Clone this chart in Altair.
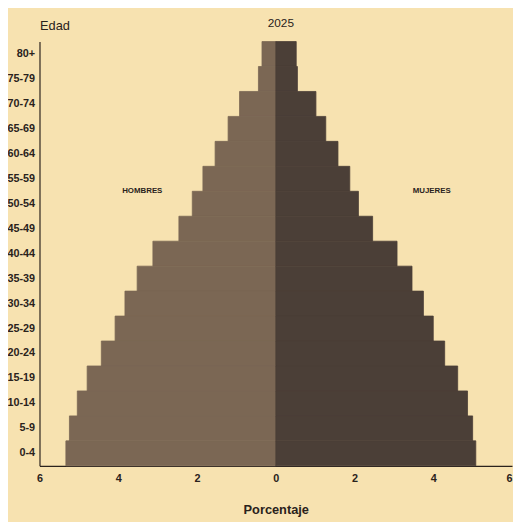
import altair as alt
import pandas as pd

ages = ["80+", "75-79", "70-74", "65-69", "60-64", "55-59", "50-54", "45-49",
        "40-44", "35-39", "30-34", "25-29", "20-24", "15-19", "10-14", "5-9", "0-4"]
hombres = [0.35, 0.44, 0.92, 1.21, 1.54, 1.85, 2.12, 2.46,
           3.12, 3.52, 3.83, 4.08, 4.43, 4.79, 5.04, 5.24, 5.33]
mujeres = [0.52, 0.55, 1.02, 1.27, 1.58, 1.88, 2.10, 2.46,
           3.08, 3.46, 3.75, 4.00, 4.29, 4.62, 4.87, 5.00, 5.08]
x_ticks = [-6, -4, -2, 0, 2, 4, 6]
sex_labels = ["HOMBRES", "MUJERES"]
sex_label_x = [-3.39, 3.96]
year_label = ["2025"]
year_x = [0.13]

FONT = "Liberation Sans"
BG = "#f7e2b0"
INK = "#2a221c"

rows = []
for a, h, m in zip(ages, hombres, mujeres):
    rows.append({"edad": a, "sexo": "Hombres", "valor": -h})
    rows.append({"edad": a, "sexo": "Mujeres", "valor": m})
df = pd.DataFrame(rows)

lab = pd.DataFrame({"txt": sex_labels, "x": sex_label_x})
yr = pd.DataFrame({"txt": year_label, "x": year_x})

x_scale = alt.Scale(domain=[-6, 6], nice=False, zero=False)
col_scale = alt.Scale(domain=["Hombres", "Mujeres"], range=["#7b6754", "#4b3f37"])

bars = alt.Chart(df).mark_bar(strokeWidth=0.8, opacity=1).encode(
    x=alt.X("valor:Q", scale=x_scale,
            axis=alt.Axis(values=x_ticks, labelExpr="abs(datum.value)", title="Porcentaje",
                          ticks=False, grid=False, domainColor=INK, domainWidth=1.2,
                          labelFont=FONT, labelFontSize=11, labelFontWeight="bold",
                          labelColor=INK, labelPadding=7, labelFlush=False,
                          labelAlign=alt.ExprRef("datum.value == 6 ? 'right' : 'center'"),
                          titleFont=FONT, titleFontSize=13, titleFontWeight="bold",
                          titleColor=INK, titlePadding=20)),
    y=alt.Y("edad:N", sort=ages,
            scale=alt.Scale(paddingInner=0, paddingOuter=0),
            axis=alt.Axis(title="Edad", titleAngle=0, titleAlign="left",
                          titleBaseline="middle", titleX=0, titleY=-16,
                          titleFont=FONT, titleFontSize=13, titleFontWeight="normal",
                          titleColor=INK, ticks=False, grid=False,
                          domainColor=INK, domainWidth=1.2,
                          labelFont=FONT, labelFontSize=11, labelFontWeight="bold",
                          labelColor=INK, labelPadding=5)),
    color=alt.Color("sexo:N", scale=col_scale, legend=None),
    stroke=alt.Stroke("sexo:N", scale=col_scale, legend=None),
)

texts = alt.Chart(lab).mark_text(font=FONT, fontSize=8, fontWeight="bold",
                                 color=INK, baseline="middle").encode(
    x=alt.X("x:Q", scale=x_scale),
    y=alt.value(152),
    text="txt:N",
)

year = alt.Chart(yr).mark_text(font=FONT, fontSize=12, color=INK,
                               baseline="middle").encode(
    x=alt.X("x:Q", scale=x_scale),
    y=alt.value(-19),
    text="txt:N",
)

chart = alt.layer(bars, texts, year).properties(
    width=480, height=431,
    autosize=alt.AutoSizeParams(type="none"),
    padding={"left": 32, "top": 30, "right": 1, "bottom": 53},
    background=BG,
).configure_view(stroke=None)

chart.save("out.html", embed_options={"renderer": "svg", "actions": False})
